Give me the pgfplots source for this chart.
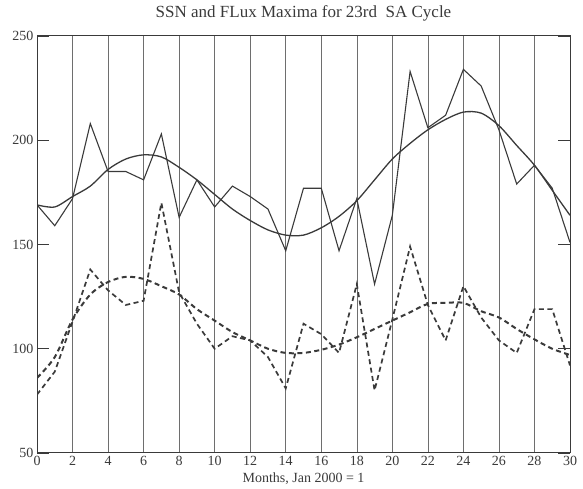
\documentclass[border=0pt]{standalone}
\usepackage{pgfplots}
\pgfplotsset{compat=1.18}
\usepackage{fontspec}
\setmainfont{Liberation Serif}
\begin{document}
\begin{tikzpicture}
\definecolor{ink}{HTML}{3A3A3A}
\definecolor{gridc}{HTML}{6E6E6E}
\begin{axis}[
  scale only axis, width=533pt, height=417pt,
  xmin=0, xmax=30, ymin=50, ymax=250,
  xtick={0,2,...,30}, ytick={50,100,...,250},
  xmajorgrids, grid style={gridc, line width=0.6pt},
  axis line style={ink, line width=1pt},
  ytick pos=both, tick align=inside, major tick length=12pt,
  ytick style={ink, line width=0.8pt}, xtick style={draw=none},
  tick label style={font=\fontsize{14}{16}\selectfont, text=ink},
  /pgf/number format/assume math mode=true,
  title={SSN and FLux Maxima for 23rd\ \ SA Cycle},
  title style={font=\fontsize{17}{19}\selectfont, text=ink,
               at={(axis description cs:0.5,1)}, anchor=center, yshift=17pt},
  xlabel={Months, Jan 2000 = 1},
  xlabel style={font=\fontsize{14}{16}\selectfont, text=ink,
                at={(axis description cs:0.5,0)}, anchor=center, yshift=-26pt},
]
% SSN monthly maxima
\addplot[ink, line width=1.1pt] coordinates {
 (0,169) (1,159) (2,172) (3,208) (4,185) (5,185) (6,181) (7,203) (8,163) (9,181)
 (10,168) (11,178) (12,173) (13,167) (14,147) (15,177) (16,177) (17,147) (18,172) (19,131)
 (20,164) (21,233) (22,206) (23,212) (24,234) (25,226) (26,205) (27,179) (28,188) (29,177) (30,151)};
% SSN fit
\addplot[ink, line width=1.3pt, smooth, tension=0.5] coordinates {
 (0,169) (1,168) (2,173) (3,178) (4,186) (5,191) (6,193) (7,192) (8,187) (9,181)
 (10,174) (11,167) (12,161.5) (13,157) (14,154.5) (15,154.5) (16,158) (17,163.5) (18,171) (19,181)
 (20,191) (21,198.5) (22,205) (23,210) (24,213.5) (25,213) (26,207) (27,197.5) (28,188) (29,176) (30,164)};
% flux monthly maxima
\addplot[ink, line width=1.7pt, dash pattern=on 5pt off 3.5pt] coordinates {
 (0,78) (1,89) (2,113) (3,138) (4,128) (5,121) (6,123) (7,170) (8,127) (9,112)
 (10,100) (11,106) (12,104) (13,96) (14,81) (15,112) (16,107) (17,98) (18,131) (19,80)
 (20,114) (21,149) (22,121) (23,104) (24,130) (25,115) (26,104) (27,98) (28,119) (29,119) (30,92)};
% flux fit
\addplot[ink, line width=2pt, dash pattern=on 5pt off 3.5pt, smooth, tension=0.5] coordinates {
 (0,86) (1,96) (2,114) (3,126) (4,132) (5,134.5) (6,133.5) (7,130) (8,126) (9,119)
 (10,113.5) (11,108) (12,104) (13,100) (14,98) (15,98) (16,99.5) (17,102) (18,105.5) (19,109.5)
 (20,113.5) (21,117.5) (22,121.5) (23,122) (24,122) (25,118) (26,115) (27,109.5) (28,104.5) (29,100) (30,97)};
\end{axis}
\path ([shift={(-37pt,-35pt)}]current axis.south west) rectangle ([shift={(13pt,36pt)}]current axis.north east);
\end{tikzpicture}
\end{document}
